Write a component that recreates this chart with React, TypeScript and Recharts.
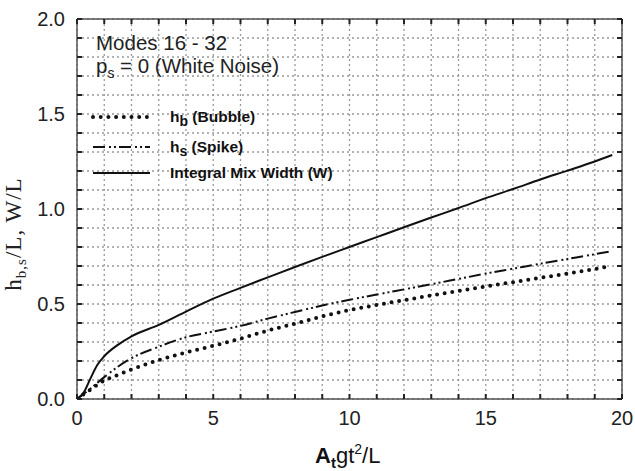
import React from 'react';
import { LineChart, Line, XAxis, YAxis, CartesianGrid } from 'recharts';

// values
const X_BUBBLE = [0, 0.5, 1, 1.5, 2, 3, 4, 5, 6, 7, 8, 9, 10, 11, 12, 13, 14, 15, 16, 17, 18, 19, 19.47];
const H_BUBBLE = [0, 0.05, 0.097, 0.127, 0.155, 0.205, 0.245, 0.28, 0.318, 0.36, 0.397, 0.435, 0.468, 0.495, 0.52, 0.545, 0.568, 0.592, 0.615, 0.638, 0.66, 0.684, 0.696];

const X_SPIKE = [0, 0.5, 1, 1.5, 2, 3, 4, 5, 6, 7, 8, 9, 10, 11, 12, 13, 14, 15, 16, 17, 18, 19, 19.64];
const H_SPIKE = [0, 0.055, 0.115, 0.17, 0.215, 0.275, 0.325, 0.355, 0.385, 0.423, 0.458, 0.492, 0.522, 0.55, 0.577, 0.604, 0.632, 0.66, 0.686, 0.712, 0.737, 0.762, 0.779];

const X_WIDTH = [0, 0.25, 0.5, 0.75, 1, 1.5, 2, 3, 4, 5, 6, 7, 8, 9, 10, 11, 12, 13, 14, 15, 16, 17, 18, 19, 19.64];
const W_MIX = [0, 0.035, 0.11, 0.18, 0.225, 0.285, 0.33, 0.39, 0.46, 0.528, 0.585, 0.64, 0.695, 0.748, 0.8, 0.852, 0.904, 0.955, 1.005, 1.057, 1.105, 1.155, 1.202, 1.25, 1.284];

const X_TICKS = [0, 1, 2, 3, 4, 5, 6, 7, 8, 9, 10, 11, 12, 13, 14, 15, 16, 17, 18, 19, 20];
const Y_TICKS = [0, 0.1, 0.2, 0.3, 0.4, 0.5, 0.6, 0.7, 0.8, 0.9, 1, 1.1, 1.2, 1.3, 1.4, 1.5, 1.6, 1.7, 1.8, 1.9, 2];
const X_LABELS = [0, 5, 10, 15, 20];
const Y_LABELS = [0, 0.5, 1, 1.5, 2];

const bubbleData = X_BUBBLE.map((x, i) => ({ x, y: H_BUBBLE[i] }));
const spikeData = X_SPIKE.map((x, i) => ({ x, y: H_SPIKE[i] }));
const mixData = X_WIDTH.map((x, i) => ({ x, y: W_MIX[i] }));

const SANS = '"Liberation Sans", Arial, Helvetica, sans-serif';
const SERIF = '"Liberation Serif", "Times New Roman", serif';
const INK = '#111';
const FRAME = { stroke: '#555', strokeWidth: 1.5 };
const TICK_COLOR = '#222';
const TICK_LEN = 5;
const GAP_X = 19; // label centre below the bottom axis
const GAP_Y = 12; // label right edge left of the y axis

const DOTTED = '0 7.7';
const DASH_DOT_DOT = '12 4 2 3 2 3';

// tickSize is 0, so (x, y) passed in sits tickMargin away from the axis line
function BottomTick({ x, y, payload }: any) {
  const axisY = y - GAP_X;
  return (
    <g>
      <line x1={x} x2={x} y1={axisY} y2={axisY - TICK_LEN} stroke={TICK_COLOR} strokeWidth={2} />
      {X_LABELS.includes(payload.value) && (
        <text x={x} y={y} dy="0.35em" textAnchor="middle" fontSize={20} fill="#222" fontFamily={SANS}>
          {payload.value}
        </text>
      )}
    </g>
  );
}

function TopTick({ x, y }: any) {
  return <line x1={x} x2={x} y1={y} y2={y + TICK_LEN} stroke={TICK_COLOR} strokeWidth={2} />;
}

function LeftTick({ x, y, payload }: any) {
  const axisX = x + GAP_Y;
  return (
    <g>
      <line x1={axisX} x2={axisX + TICK_LEN} y1={y} y2={y} stroke={TICK_COLOR} strokeWidth={2} />
      {Y_LABELS.includes(payload.value) && (
        <text x={x} y={y} dy="0.35em" textAnchor="end" fontSize={20} fill="#222" fontFamily={SANS}>
          {payload.value.toFixed(1)}
        </text>
      )}
    </g>
  );
}

function RightTick({ x, y }: any) {
  return <line x1={x} x2={x - TICK_LEN} y1={y} y2={y} stroke={TICK_COLOR} strokeWidth={2} />;
}

function LegendRow({ y, dash, cap, sw, children }: any) {
  return (
    <g>
      <line x1={93} x2={150} y1={y} y2={y} stroke={INK} strokeWidth={sw} strokeDasharray={dash} strokeLinecap={cap} />
      <text x={170} y={y + 5} fontSize={15.5} fontWeight="bold" fontFamily={SANS} fill={INK}>
        {children}
      </text>
    </g>
  );
}

export default function App() {
  return (
    <div style={{ position: 'absolute', left: 0, top: 0, width: 635, height: 471, background: '#fff' }}>
      <LineChart width={635} height={471} margin={{ top: 18, right: 12, bottom: 32, left: 17 }}>
        <CartesianGrid stroke="#999" strokeWidth={1.3} strokeDasharray="2 3" />
        <XAxis
          dataKey="x"
          type="number"
          domain={[0, 20]}
          ticks={X_TICKS}
          interval={0}
          height={40}
          tickSize={0}
          tickMargin={GAP_X}
          tick={<BottomTick />}
          tickLine={false}
          axisLine={FRAME}
          allowDataOverflow
        />
        <XAxis
          xAxisId="top"
          orientation="top"
          dataKey="x"
          type="number"
          domain={[0, 20]}
          ticks={X_TICKS}
          interval={0}
          height={1}
          tickSize={0}
          tickMargin={0}
          tick={<TopTick />}
          tickLine={false}
          axisLine={FRAME}
          allowDataOverflow
        />
        <YAxis
          type="number"
          domain={[0, 2]}
          ticks={Y_TICKS}
          interval={0}
          width={60}
          tickSize={0}
          tickMargin={GAP_Y}
          tick={<LeftTick />}
          tickLine={false}
          axisLine={FRAME}
          allowDataOverflow
        />
        <YAxis
          yAxisId="right"
          orientation="right"
          type="number"
          domain={[0, 2]}
          ticks={Y_TICKS}
          interval={0}
          width={1}
          tickSize={0}
          tickMargin={0}
          tick={<RightTick />}
          tickLine={false}
          axisLine={FRAME}
          allowDataOverflow
        />
        <Line data={mixData} dataKey="y" type="monotone" stroke={INK} strokeWidth={2} dot={false} activeDot={false} isAnimationActive={false} />
        <Line data={spikeData} dataKey="y" type="monotone" stroke={INK} strokeWidth={2} strokeDasharray={DASH_DOT_DOT} dot={false} activeDot={false} isAnimationActive={false} />
        <Line data={bubbleData} dataKey="y" type="monotone" stroke={INK} strokeWidth={4} strokeDasharray={DOTTED} strokeLinecap="round" dot={false} activeDot={false} isAnimationActive={false} />
      </LineChart>

      <svg width={635} height={471} style={{ position: 'absolute', left: 0, top: 0, pointerEvents: 'none' }}>
        <text x={96} y={50} fontSize={20.5} fontFamily={SANS} fill="#222">Modes 16 - 32</text>
        <text x={96} y={73} fontSize={20.5} fontFamily={SANS} fill="#222">
          p<tspan fontSize={14} dy={5}>s</tspan>
          <tspan dy={-5}> = 0 (White Noise)</tspan>
        </text>

        <LegendRow y={117} dash={DOTTED} cap="round" sw={4}>
          h<tspan fontSize={14} dy={4}>b</tspan>
          <tspan dy={-4}> (Bubble)</tspan>
        </LegendRow>
        <LegendRow y={147} dash={DASH_DOT_DOT} cap="butt" sw={2}>
          h<tspan fontSize={14} dy={4}>s</tspan>
          <tspan dy={-4}> (Spike)</tspan>
        </LegendRow>
        <LegendRow y={173} dash="none" cap="butt" sw={2}>
          Integral Mix Width (W)
        </LegendRow>

        <text transform="translate(21,234) rotate(-90)" textAnchor="middle" fontSize={23} letterSpacing={1} fontFamily={SERIF} fill="#222">
          h<tspan fontSize={15} dy={5}>b,s</tspan>
          <tspan dy={-5}>/L, W/L</tspan>
        </text>

        <text x={315} y={463} fontSize={22} fontFamily={SANS} fill={INK}>
          <tspan fontWeight="bold">A</tspan>
          <tspan fontWeight="bold" fontSize={15} dy={5}>t</tspan>
          <tspan dy={-5}>gt</tspan>
          <tspan fontSize={14} dy={-9}>2</tspan>
          <tspan dy={9}>/L</tspan>
        </text>
      </svg>
    </div>
  );
}
